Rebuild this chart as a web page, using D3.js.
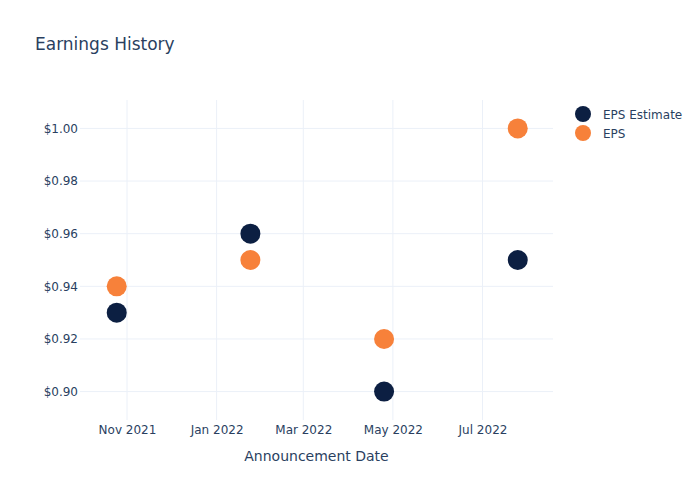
<!DOCTYPE html>
<html>
<head>
<meta charset="utf-8">
<script src="https://cdn.jsdelivr.net/npm/d3@7"></script>
<style>
  body { margin: 0; background: #fff; }
  svg, svg text { font-family: "DejaVu Sans", sans-serif; }
</style>
</head>
<body>
<svg id="Vis" width="700" height="500"></svg>
<script>
// data
var dates = ["2021-10-25", "2022-01-24", "2022-04-25", "2022-07-25"];
var epsEstimate = [0.93, 0.96, 0.90, 0.95];
var eps = [0.94, 0.95, 0.92, 1.00];
var seriesNames = ["EPS Estimate", "EPS"];
var seriesColors = ["#0c1f42", "#f7813a"];
var yTicks = [0.90, 0.92, 0.94, 0.96, 0.98, 1.00];
var xTicks = ["2021-11-01", "2022-01-01", "2022-03-01", "2022-05-01", "2022-07-01"];

var parse = d3.timeParse("%Y-%m-%d");
var textColor = "#2a3f5f";
var gridColor = "#ebf0f8";

var svg = d3.select("#Vis");

var x = d3.scaleTime()
  .domain([parse("2021-09-30"), parse("2022-08-18")])
  .range([80, 553]);

var y = d3.scaleLinear()
  .domain([0.8892, 1.0108])
  .range([420, 100]);

// grid
var grid = svg.append("g").attr("class", "grid");
grid.selectAll("line.vx")
  .data(xTicks.map(parse))
  .enter().append("line")
  .attr("x1", function(d){ return x(d); })
  .attr("x2", function(d){ return x(d); })
  .attr("y1", 100).attr("y2", 420)
  .attr("stroke", gridColor).attr("stroke-width", 1);
grid.selectAll("line.hy")
  .data(yTicks)
  .enter().append("line")
  .attr("x1", 80).attr("x2", 553)
  .attr("y1", function(d){ return y(d); })
  .attr("y2", function(d){ return y(d); })
  .attr("stroke", gridColor).attr("stroke-width", 1);

// axes
var xAxis = d3.axisBottom(x)
  .tickValues(xTicks.map(parse))
  .tickFormat(d3.timeFormat("%b %Y"))
  .tickSize(0).tickPadding(0);
var gx = svg.append("g").attr("transform", "translate(0,420)").call(xAxis)
  .attr("font-family", "DejaVu Sans, sans-serif");
gx.select(".domain").remove();
gx.selectAll("text")
  .attr("dy", 0).attr("y", 14)
  .attr("fill", textColor).style("font-size", "12px");

var yAxis = d3.axisLeft(y)
  .tickValues(yTicks)
  .tickFormat(function(d){ return "$" + d3.format(".2f")(d); })
  .tickSize(0).tickPadding(2);
var gy = svg.append("g").attr("transform", "translate(80,0)").call(yAxis)
  .attr("font-family", "DejaVu Sans, sans-serif");
gy.select(".domain").remove();
gy.selectAll("text")
  .attr("fill", textColor).style("font-size", "12px");

// points
var series = [epsEstimate, eps];
series.forEach(function(vals, si){
  svg.append("g").selectAll("circle")
    .data(vals)
    .enter().append("circle")
    .attr("cx", function(d, i){ return x(parse(dates[i])); })
    .attr("cy", function(d){ return y(d); })
    .attr("r", 10)
    .attr("fill", seriesColors[si]);
});

// title
svg.append("text")
  .attr("x", 35).attr("y", 50)
  .attr("fill", textColor)
  .style("font-size", "17px")
  .text("Earnings History");

// axis title
svg.append("text")
  .attr("x", 316.5).attr("y", 461)
  .attr("text-anchor", "middle")
  .attr("fill", textColor)
  .style("font-size", "14px")
  .text("Announcement Date");

// legend
var legend = svg.append("g").attr("transform", "translate(583,114)");
seriesNames.forEach(function(name, i){
  var row = legend.append("g").attr("transform", "translate(0," + (i * 19) + ")");
  row.append("circle").attr("r", 8).attr("fill", seriesColors[i]);
  row.append("text")
    .attr("x", 20).attr("y", 4.5)
    .attr("fill", textColor)
    .style("font-size", "12px")
    .text(name);
});
</script>
</body>
</html>
